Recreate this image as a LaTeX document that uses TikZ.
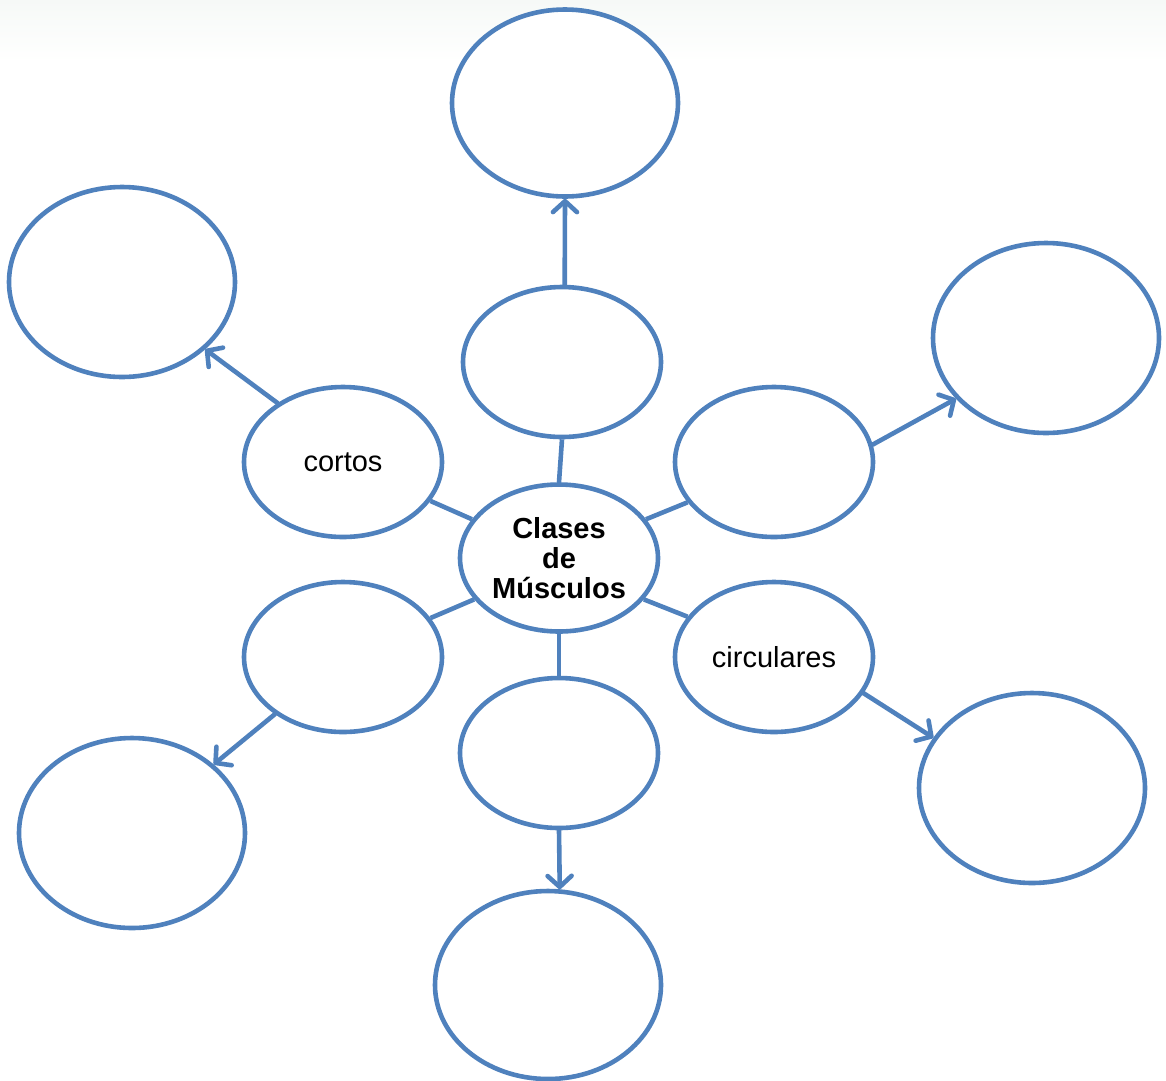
\documentclass[tikz,border=0pt]{standalone}
\usepackage{fontspec}
\setmainfont{Liberation Sans}
\usetikzlibrary{shapes.geometric,arrows.meta}
\definecolor{bl}{HTML}{4F81BD}
\begin{document}
\begin{tikzpicture}[x=1pt,y=-1pt,
  ell/.style={ellipse,draw=bl,line width=4.6pt,fill=white,inner sep=0pt,font=\fontsize{29}{30}\selectfont,align=center},
  big/.style={ell,minimum width=226pt,minimum height=190pt},
  small/.style={ell,minimum width=198pt,minimum height=150pt},
  link/.style={draw=bl,line width=4.6pt},
  arr/.style={draw=bl,line width=4.6pt,line cap=round,line join=round,-{Straight Barb[length=11pt,width=24pt,line cap=round,line join=round]}}]
\useasboundingbox (0,0) rectangle (1166,1080);
\shade[top color={rgb,255:red,246;green,249;blue,247},bottom color=white] (0,0) rectangle (1166,62);
% outer ellipses
\node[big,minimum height=187pt] (T) at (565,103) {};
\node[big] (UL) at (122,282) {};
\node[big] (UR) at (1046,338) {};
\node[big] (LL) at (132,833) {};
\node[big] (LR) at (1032,788) {};
\node[big,minimum height=188pt] (B) at (548,985) {};
% inner ellipses
\node[small] (t) at (562,362) {};
\node[small] (cl) at (343,462) {cortos};
\node[small] (ur) at (774,462) {};
\node[small] (ll) at (343,657) {};
\node[small] (cr) at (774,657) {circulares};
\node[small] (b) at (559,753) {};
\node[small,minimum height=147pt,font=\fontsize{29}{30}\selectfont\bfseries] (c) at (559,558) {Clases\\de\\Músculos};
% connectors to centre
\draw[link] (t.south) -- (c.north);
\draw[link] (cl.336) -- (c.156);
\draw[link] (ur.205) -- (c.24);
\draw[link] (ll.24) -- (c.206);
\draw[link] (cr.155) -- (c.334);
\draw[link] (c.south) -- (b.north);
% arrows outward
\draw[arr] (t.88) -- (T.270);
\draw[arr] (cl.138) -- (UL.321);
\draw[arr] (ur.10) -- (UR.214);
\draw[arr] (ll.220) -- (LL.40);
\draw[arr] (cr.338) -- (LR.153);
\draw[arr] (b.south) -- (B.83.5);
\end{tikzpicture}
\end{document}
